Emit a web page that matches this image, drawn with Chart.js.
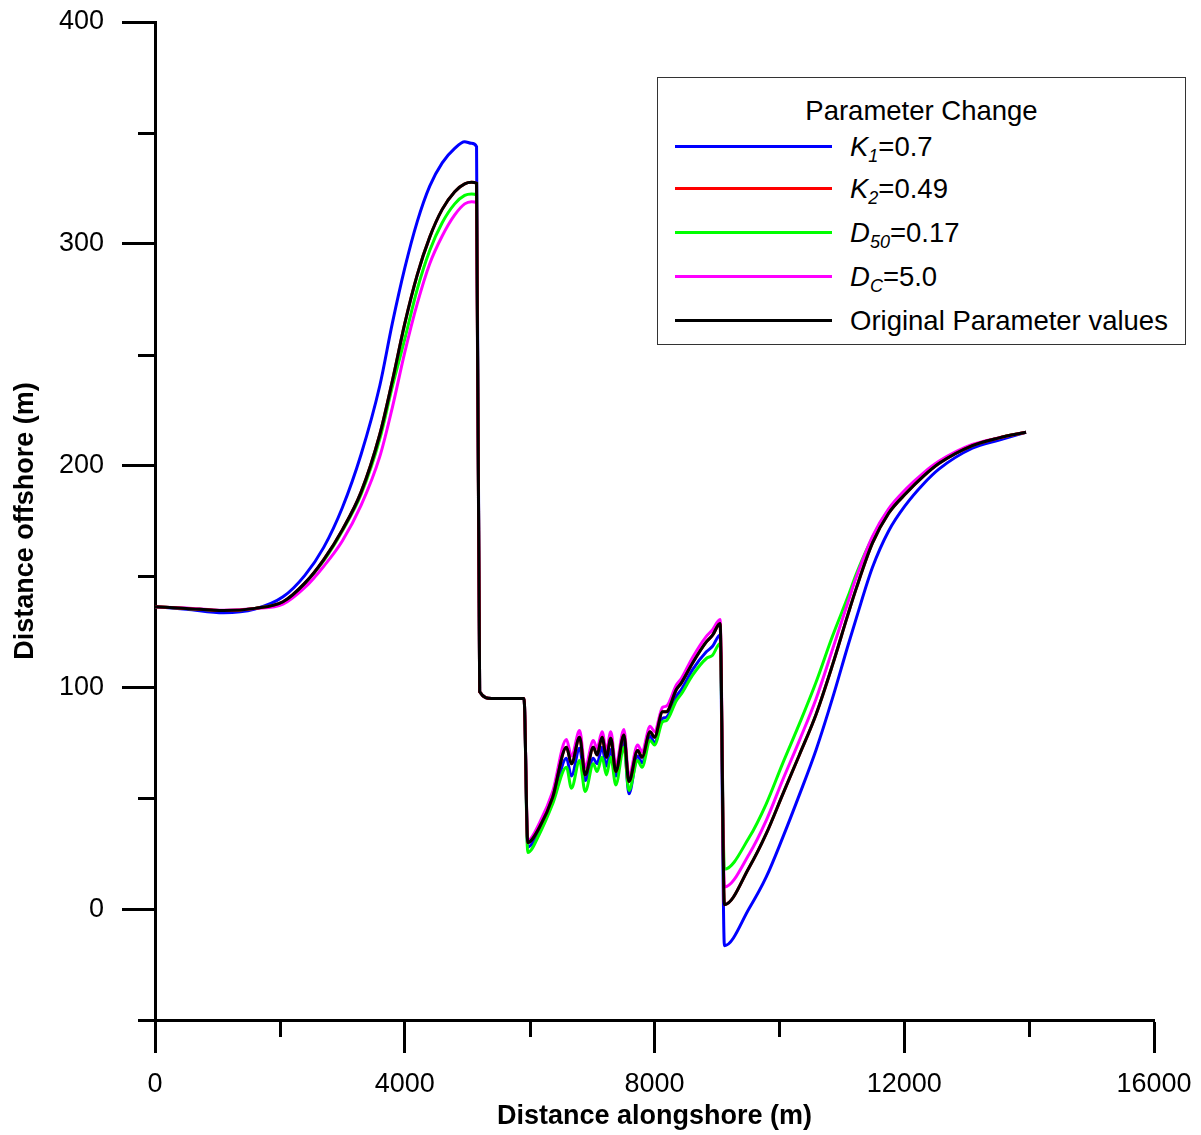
<!DOCTYPE html>
<html>
<head>
<meta charset="utf-8">
<script src="https://cdn.jsdelivr.net/npm/chart.js@4.4.1/dist/chart.umd.min.js"></script>
<style>
  html, body { margin: 0; padding: 0; background: #fff; }
  #wrap { position: relative; width: 1201px; height: 1135px; font-family: "Liberation Sans", Arial, sans-serif; }
  #chart { position: absolute; left: 0; top: 0; }
  #legend { position: absolute; left: 657px; top: 77px; width: 529px; height: 268px; border: 1px solid #333; background: #fff; box-sizing: border-box; }
  #legend .title { position: absolute; left: 0; width: 100%; text-align: center; font-size: 27.5px; line-height: 30px; color: #000; }
  #legend .row { position: absolute; left: 0; width: 100%; height: 30px; }
  #legend .swatch { position: absolute; left: 17px; width: 157px; height: 3px; top: 13px; }
  #legend .txt { position: absolute; left: 192px; top: 0; font-size: 27.5px; line-height: 30px; color: #000; white-space: nowrap; }
  #legend .txt i { font-style: italic; }
  #legend .txt sub { font-size: 18px; font-style: italic; vertical-align: -6px; line-height: 0; }
</style>
</head>
<body>
<div id="wrap">
  <canvas id="chart" width="1201" height="1135"></canvas>
  <div id="legend"></div>
</div>
<script>
// ---- data ----
const distanceAlongshore = [
  0, 500, 1100, 1600, 2050, 2400, 2700, 3000, 3300, 3600, 3800, 4000, 4200, 4400, 4600, 4800, 4960, 5070, 5150,
  5200, 5390, 5910,
  5970, 6160, 6370, 6590, 6670, 6800, 6890, 7020, 7080, 7160, 7230, 7300, 7380, 7510, 7590, 7730, 7800, 7930, 8000,
  8130, 8190, 8350, 8430, 8610, 8830, 8930, 9050,
  9120, 9520, 9790, 10050, 10320, 10590, 10850, 11100, 11230, 11490, 11750, 12030, 12300, 12560, 13090, 13520, 13950
];

const seriesK1 = [
  136.3, 135.2, 133.6, 135.3, 140.8, 150.5, 163, 181, 205, 236, 264, 289, 310, 326, 336.5, 343, 346, 345.3, 343.8,
  98, 95, 95,
  28, 35.5, 48.5, 68, 60, 72.5, 58, 68, 65.5, 73, 64.5, 72, 60, 75.5, 52, 69, 66, 78, 75,
  86, 86.5, 96, 99, 108, 116, 118.5, 123.6,
  -16.5, 0.5, 14.5, 32, 51.5, 72, 95, 119, 131, 154, 170.5, 182.5, 191.5, 198.5, 207.8, 211.5, 215
];

const seriesK2 = [
  136.3, 135.6, 134.6, 135.6, 138.6, 147, 157.5, 171, 188, 214, 238, 264, 286, 303, 315.5, 323.5, 327, 327.7, 327.3,
  98, 95, 95,
  30, 37, 50.5, 73, 65.5, 77.5, 60.5, 73, 69.5, 77.5, 68.5, 77, 62, 78.5, 57.5, 71.5, 68.5, 80, 77.5,
  89, 89, 99, 102, 111, 120.5, 123.5, 128.8,
  2, 19, 34, 51.5, 69.5, 88, 110, 133, 144.5, 165, 178.5, 187.5, 195, 201, 209, 212.5, 215
];

const seriesD50 = [
  136.3, 135.6, 134.6, 135.6, 138.4, 146.8, 157, 170.5, 187, 212, 235.5, 257, 279.5, 297, 309.5, 318, 321.8, 322.4, 322,
  98, 95, 95,
  25.5, 34, 47.5, 64, 54.5, 67, 53, 65.5, 62, 68.5, 60.5, 68.5, 56, 73, 53.5, 67, 64, 76, 74,
  84.5, 85, 94, 97, 105.5, 113, 114.5, 119.8,
  18, 32.5, 47.5, 65.5, 83.5, 102.5, 123, 141, 151, 167.5, 180, 189, 196, 201.5, 209, 212.5, 215
];

const seriesDC = [
  136.3, 135.8, 134.8, 135.5, 137.5, 145, 154.5, 166, 182, 204, 226, 251, 273, 291, 303.5, 313, 318, 319, 318.5,
  98, 95, 95,
  31, 39, 53, 76.5, 69, 80.5, 64, 76, 72.5, 80, 71.5, 80, 65, 81, 60, 74, 71, 82.5, 80,
  91, 91.5, 101, 104, 113.5, 123, 126, 130.6,
  10, 25, 40, 58, 76, 95, 117, 138.5, 149.5, 168, 180.5, 189.5, 196.5, 202, 209.5, 212.5, 215
];

const seriesOriginal = [
  136.3, 135.6, 134.6, 135.6, 138.6, 147, 157.5, 171, 188, 214, 238, 264, 286, 303, 315.5, 323.5, 327, 327.7, 327.3,
  98, 95, 95,
  30, 37, 50.5, 73, 65.5, 77.5, 60.5, 73, 69.5, 77.5, 68.5, 77, 62, 78.5, 57.5, 71.5, 68.5, 80, 77.5,
  89, 89, 99, 102, 111, 120.5, 123.5, 128.8,
  2, 19, 34, 51.5, 69.5, 88, 110, 133, 144.5, 165, 178.5, 187.5, 195, 201, 209, 212.5, 215
];

const seriesLabels = ['K1=0.7', 'K2=0.49', 'D50=0.17', 'DC=5.0', 'Original Parameter values'];
const legendSymbol = ['K', 'K', 'D', 'D', ''];
const legendSub = ['1', '2', '50', 'C', ''];
const legendRest = ['=0.7', '=0.49', '=0.17', '=5.0', 'Original Parameter values'];
const legendTitle = 'Parameter Change';
const seriesColors = ['#0000ff', '#ff0000', '#00ff00', '#ff00ff', '#000000'];
const xTickLabels = [0, 4000, 8000, 12000, 16000];
const yTickLabels = [0, 100, 200, 300, 400];
const xTitle = 'Distance alongshore (m)';
const yTitle = 'Distance offshore (m)';

// ---- chart ----
const allSeries = [seriesK1, seriesK2, seriesD50, seriesDC, seriesOriginal];
const drawOrder = [5, 2, 4, 3, 1];
const FONT = '"Liberation Sans", Arial, sans-serif';
Chart.defaults.color = '#000';
Chart.defaults.font.family = FONT;

const datasets = allSeries.map((s, k) => ({
  label: seriesLabels[k],
  data: distanceAlongshore.map((x, i) => ({ x: x, y: s[i] })),
  borderColor: seriesColors[k],
  backgroundColor: seriesColors[k],
  borderWidth: 3,
  pointRadius: 0,
  fill: false,
  cubicInterpolationMode: 'monotone',
  order: drawOrder[k]
}));

const minorTicks = {
  id: 'minorTicks',
  afterDraw(chart) {
    const ctx = chart.ctx;
    const xs = chart.scales.x, ys = chart.scales.y;
    ctx.save();
    ctx.strokeStyle = '#000';
    ctx.lineWidth = 3;
    xs.ticks.forEach(t => {
      if (!xTickLabels.includes(t.value)) {
        const px = Math.round(xs.getPixelForValue(t.value)) + 0.5;
        ctx.beginPath(); ctx.moveTo(px, xs.top); ctx.lineTo(px, xs.top + 17); ctx.stroke();
      }
    });
    ys.ticks.forEach(t => {
      if (!yTickLabels.includes(t.value)) {
        const py = Math.round(ys.getPixelForValue(t.value)) + 0.5;
        ctx.beginPath(); ctx.moveTo(ys.right, py); ctx.lineTo(ys.right - 17, py); ctx.stroke();
      }
    });
    ctx.restore();
  }
};

function zeroPad(scale) {
  scale.paddingTop = 0; scale.paddingBottom = 0; scale.paddingLeft = 0; scale.paddingRight = 0;
}

const chart = new Chart(document.getElementById('chart'), {
  type: 'line',
  data: { datasets: datasets },
  plugins: [minorTicks],
  options: {
    responsive: false,
    animation: false,
    devicePixelRatio: 1,
    layout: { padding: { top: 22, right: 47, left: 0, bottom: 0 } },
    plugins: { legend: { display: false }, tooltip: { enabled: false } },
    scales: {
      x: {
        type: 'linear',
        min: 0, max: 16000,
        afterFit(scale) { scale.height = 115; zeroPad(scale); },
        border: { display: true, color: '#000', width: 3 },
        grid: {
          drawOnChartArea: false, drawTicks: true, tickLength: 33, tickWidth: 3,
          tickColor: c => (xTickLabels.includes(c.tick.value) ? '#000' : 'rgba(0,0,0,0)')
        },
        ticks: {
          stepSize: 2000, padding: 15, maxRotation: 0, autoSkip: false,
          font: { size: 27, family: FONT }, color: '#000',
          callback: v => (xTickLabels.includes(v) ? String(v) : '')
        },
        title: { display: true, text: xTitle, color: '#000', font: { size: 27, weight: 'bold', family: FONT }, padding: { top: 0, bottom: 2 } }
      },
      y: {
        type: 'linear',
        min: -50, max: 400,
        afterFit(scale) { scale.width = 155; zeroPad(scale); },
        border: { display: true, color: '#000', width: 3 },
        grid: {
          drawOnChartArea: false, drawTicks: true, tickLength: 33, tickWidth: 3,
          tickColor: c => (yTickLabels.includes(c.tick.value) ? '#000' : 'rgba(0,0,0,0)')
        },
        ticks: {
          stepSize: 50, padding: 18, autoSkip: false,
          font: { size: 27, family: FONT }, color: '#000',
          callback: v => (yTickLabels.includes(v) ? String(v) : '')
        },
        title: { display: true, text: yTitle, color: '#000', font: { size: 27, weight: 'bold', family: FONT }, padding: { top: 9, bottom: 0 } }
      }
    }
  }
});

// ---- legend (HTML, built from the chart's datasets) ----
(function buildLegend() {
  const box = document.getElementById('legend');
  const t = document.createElement('div');
  t.className = 'title';
  t.style.top = (110 - 77 - 15) + 'px';
  t.textContent = legendTitle;
  box.appendChild(t);
  const rowCenters = [146, 188, 232, 276, 320];
  chart.data.datasets.forEach((ds, k) => {
    const row = document.createElement('div');
    row.className = 'row';
    row.style.top = (rowCenters[k] - 77 - 15) + 'px';
    const sw = document.createElement('div');
    sw.className = 'swatch';
    sw.style.background = ds.borderColor;
    row.appendChild(sw);
    const tx = document.createElement('div');
    tx.className = 'txt';
    if (legendSymbol[k]) {
      const i = document.createElement('i'); i.textContent = legendSymbol[k]; tx.appendChild(i);
      const s = document.createElement('sub'); s.textContent = legendSub[k]; tx.appendChild(s);
    }
    tx.appendChild(document.createTextNode(legendRest[k]));
    row.appendChild(tx);
    box.appendChild(row);
  });
})();
</script>
</body>
</html>
